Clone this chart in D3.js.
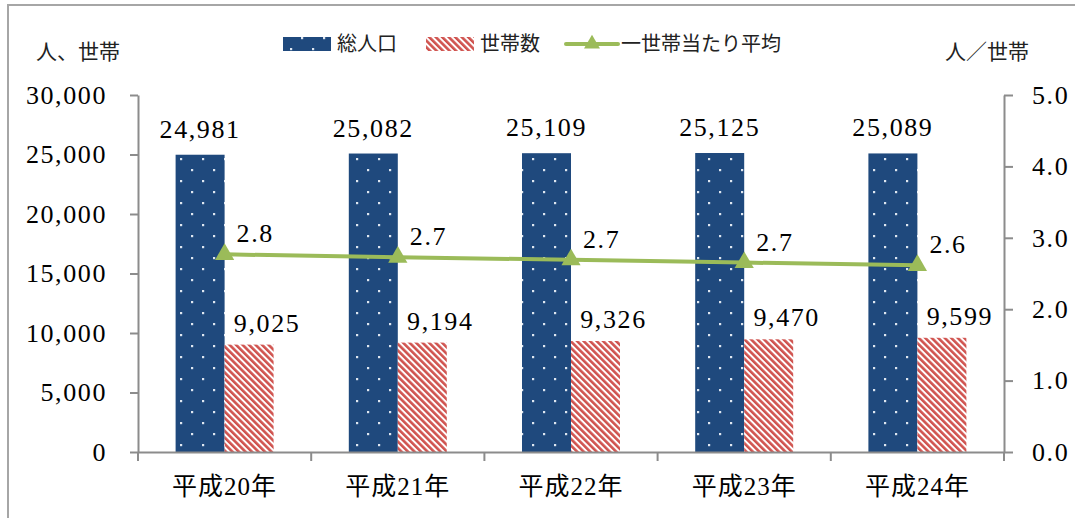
<!DOCTYPE html>
<html>
<head>
<meta charset="utf-8">
<script src="https://cdn.jsdelivr.net/npm/d3@7"></script>
<style>
  body { margin: 0; background: #fff; }
  svg { display: block; }
</style>
</head>
<body>
<svg id="chart" width="1075" height="518"></svg>
<script>
// Population and households by year
const categories = ["平成20年", "平成21年", "平成22年", "平成23年", "平成24年"];
const population = [24981, 25082, 25109, 25125, 25089];
const households = [9025, 9194, 9326, 9470, 9599];
const perHousehold = [2.768, 2.728, 2.692, 2.653, 2.614];
const leftTicks = [0, 5000, 10000, 15000, 20000, 25000, 30000];
const rightTicks = [0, 1, 2, 3, 4, 5];
const seriesNames = ["総人口", "世帯数", "一世帯当たり平均"];
const leftTitle = "人、世帯";
const rightTitle = "人／世帯";

const W = 1075, H = 518;
const plot = { left: 138, right: 1004, top: 95, bottom: 452 };
const NUM_FONT = "'Liberation Serif', 'Noto Sans CJK JP', serif";
const AXIS_COLOR = "#8c8c8c";
const BLUE = "#1f497d";
const RED = "#d0534f";
const GREEN = "#9bbb59";

const svg = d3.select("#chart");

// Fill patterns
const defs = svg.append("defs");
const dots = defs.append("pattern")
  .attr("id", "dots").attr("patternUnits", "userSpaceOnUse")
  .attr("width", 22).attr("height", 22);
dots.append("rect").attr("width", 22).attr("height", 22).attr("fill", BLUE);
dots.append("rect").attr("x", 4).attr("y", 4).attr("width", 2.2).attr("height", 2.2).attr("fill", "#dfe7f1");
dots.append("rect").attr("x", 15).attr("y", 15).attr("width", 2.2).attr("height", 2.2).attr("fill", "#dfe7f1");

const stripes = defs.append("pattern")
  .attr("id", "stripes").attr("patternUnits", "userSpaceOnUse")
  .attr("width", 4.6).attr("height", 10)
  .attr("patternTransform", "rotate(-45)");
stripes.append("rect").attr("width", 4.6).attr("height", 10).attr("fill", "#fff");
stripes.append("rect").attr("width", 2.6).attr("height", 10).attr("fill", RED);

// Chart frame
svg.append("rect")
  .attr("x", 8).attr("y", 5).attr("width", W + 20).attr("height", H + 20)
  .attr("fill", "none").attr("stroke", "#a6a6a6").attr("stroke-width", 2);

// Scales
const x = d3.scaleBand().domain(categories).range([plot.left, plot.right]).padding(0);
const barW = 49;
const yL = d3.scaleLinear().domain([0, 30000]).range([plot.bottom, plot.top]);
const yR = d3.scaleLinear().domain([0, 5]).range([plot.bottom, plot.top]);

// Left axis
const axL = svg.append("g").attr("transform", `translate(${plot.left},0)`)
  .call(d3.axisLeft(yL).tickValues(leftTicks).tickFormat(d3.format(",")).tickSize(8).tickSizeOuter(0).tickPadding(23));
// Right axis
const axR = svg.append("g").attr("transform", `translate(${plot.right},0)`)
  .call(d3.axisRight(yR).tickValues(rightTicks).tickFormat(d3.format(".1f")).tickSize(9).tickSizeOuter(0).tickPadding(19));
[axL, axR].forEach(g => {
  g.selectAll("path, line").attr("stroke", AXIS_COLOR).attr("stroke-width", 2);
  g.selectAll("text").attr("font-family", NUM_FONT).attr("font-size", 26)
    .attr("letter-spacing", 1.6).attr("fill", "#000");
});

// Bars
const bars = svg.append("g");
bars.selectAll("rect.pop").data(categories).join("rect")
  .attr("class", "pop")
  .attr("x", d => x(d) + x.bandwidth() / 2 - barW)
  .attr("width", barW)
  .attr("y", (d, i) => yL(population[i]))
  .attr("height", (d, i) => yL(0) - yL(population[i]))
  .attr("fill", "url(#dots)");
bars.selectAll("rect.hh").data(categories).join("rect")
  .attr("class", "hh")
  .attr("x", d => x(d) + x.bandwidth() / 2)
  .attr("width", barW)
  .attr("y", (d, i) => yL(households[i]))
  .attr("height", (d, i) => yL(0) - yL(households[i]))
  .attr("fill", "url(#stripes)");

// Bottom axis: line, boundary ticks and category labels
const axB = svg.append("g").attr("transform", `translate(0,${plot.bottom})`)
  .call(d3.axisBottom(x).tickSize(0).tickPadding(25));
axB.select("path.domain").attr("stroke", AXIS_COLOR).attr("stroke-width", 2);
axB.selectAll("text").attr("font-family", NUM_FONT).attr("font-size", 25)
  .attr("letter-spacing", 1).attr("fill", "#000");
const bounds = categories.map(c => x(c)).concat([plot.right]);
axB.selectAll("line.bound").data(bounds).join("line")
  .attr("class", "bound")
  .attr("x1", d => d).attr("x2", d => d)
  .attr("y1", 0).attr("y2", 9)
  .attr("stroke", AXIS_COLOR).attr("stroke-width", 2);

// Average per household line
const cx = d => x(d) + x.bandwidth() / 2;
const line = d3.line().x((d, i) => cx(categories[i])).y(d => yR(d));
svg.append("path").datum(perHousehold)
  .attr("d", line).attr("fill", "none")
  .attr("stroke", GREEN).attr("stroke-width", 4);
svg.append("g").selectAll("path").data(perHousehold).join("path")
  .attr("d", d3.symbol(d3.symbolTriangle, 160))
  .attr("transform", (d, i) => `translate(${cx(categories[i])},${yR(d)})`)
  .attr("fill", GREEN);

// Value labels
const labels = svg.append("g").attr("font-family", NUM_FONT).attr("font-size", 26)
  .attr("letter-spacing", 1.6).attr("fill", "#000");
labels.selectAll("text.pop").data(population).join("text")
  .attr("x", (d, i) => cx(categories[i]) - barW / 2)
  .attr("y", d => yL(d) - 17)
  .attr("text-anchor", "middle")
  .text(d3.format(","));
labels.selectAll("text.hh").data(households).join("text")
  .attr("x", (d, i) => cx(categories[i]) + barW / 2 + 18)
  .attr("y", d => yL(d) - 13)
  .attr("text-anchor", "middle")
  .text(d3.format(","));
labels.selectAll("text.avg").data(perHousehold).join("text")
  .attr("x", (d, i) => cx(categories[i]) + 12)
  .attr("y", d => yR(d) - 12)
  .attr("text-anchor", "start")
  .text(d3.format(".1f"));

// Axis titles
svg.append("text").attr("x", 78).attr("y", 52).attr("dy", "0.35em")
  .attr("text-anchor", "middle").attr("font-family", NUM_FONT).attr("font-size", 21)
  .attr("fill", "#222").text(leftTitle);
svg.append("text").attr("x", 987).attr("y", 52).attr("dy", "0.35em")
  .attr("text-anchor", "middle").attr("font-family", NUM_FONT).attr("font-size", 21)
  .attr("fill", "#222").text(rightTitle);

// Legend
const legend = svg.append("g").attr("font-family", NUM_FONT).attr("font-size", 20).attr("fill", "#222");
const ly = 44;
legend.append("rect").attr("x", 283).attr("y", ly - 7).attr("width", 48).attr("height", 14).attr("fill", "url(#dots)");
legend.append("text").attr("x", 337).attr("y", ly).attr("dy", "0.35em").text(seriesNames[0]);
legend.append("rect").attr("x", 426).attr("y", ly - 7).attr("width", 48).attr("height", 14).attr("fill", "url(#stripes)");
legend.append("text").attr("x", 480).attr("y", ly).attr("dy", "0.35em").text(seriesNames[1]);
legend.append("line").attr("x1", 566).attr("x2", 618).attr("y1", ly).attr("y2", ly)
  .attr("stroke", GREEN).attr("stroke-width", 4).attr("stroke-linecap", "round");
legend.append("path").attr("d", d3.symbol(d3.symbolTriangle, 110))
  .attr("transform", `translate(592,${ly})`).attr("fill", GREEN);
legend.append("text").attr("x", 621).attr("y", ly).attr("dy", "0.35em").text(seriesNames[2]);
</script>
</body>
</html>
